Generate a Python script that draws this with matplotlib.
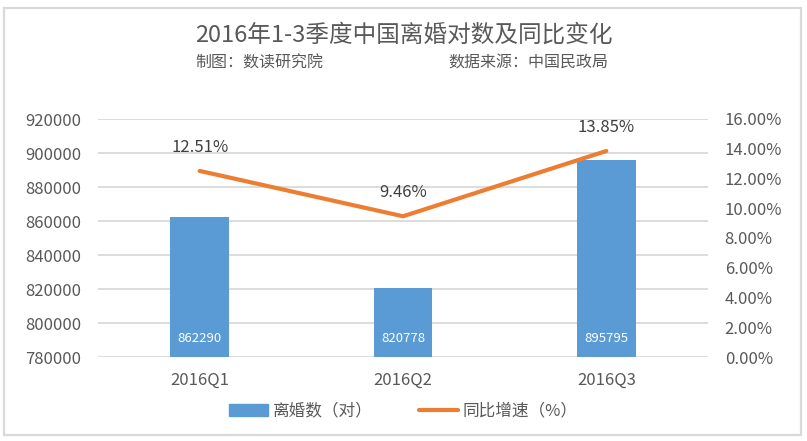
import matplotlib
matplotlib.use("Agg")
import matplotlib.pyplot as plt
from matplotlib.patches import Rectangle
from matplotlib.lines import Line2D
from matplotlib.ticker import FuncFormatter

plt.rcParams['font.family'] = ['Noto Sans CJK SC', 'DejaVu Sans']

categories = ["2016Q1", "2016Q2", "2016Q3"]
divorces = [862290, 820778, 895795]
growth = [0.1251, 0.0946, 0.1385]
left_ticks = [780000, 800000, 820000, 840000, 860000, 880000, 900000, 920000]
right_ticks = [0.0, 0.02, 0.04, 0.06, 0.08, 0.10, 0.12, 0.14, 0.16]

title = "2016年1-3季度中国离婚对数及同比变化"
sub_left = "制图：数读研究院"
sub_right = "数据来源：中国民政局"
legend_labels = ["离婚数（对）", "同比增速（%）"]

BLUE = "#5B9BD5"
ORANGE = "#ED7D31"
TEXT = "#595959"
GRID = "#D9D9D9"

W, H = 807, 441
fig = plt.figure(figsize=(W / 100, H / 100), dpi=100)
fig.patch.set_facecolor("white")

ax = fig.add_axes([98 / W, 1 - 357 / H, (708 - 98) / W, (357 - 119) / H])
x = list(range(len(categories)))
ax.bar(x, divorces, width=0.29, color=BLUE, zorder=2)
ax.set_xlim(-0.5, len(categories) - 0.5)
ax.set_ylim(left_ticks[0], left_ticks[-1])
ax.set_yticks(left_ticks)
ax.set_yticklabels([str(t) for t in left_ticks])
ax.set_xticks(x)
ax.set_xticklabels(categories)
ax.grid(axis="y", color=GRID, linewidth=1.3)
ax.set_axisbelow(True)
for s in ax.spines.values():
    s.set_visible(False)
ax.tick_params(axis="y", length=0, pad=12, labelsize=12, labelcolor=TEXT)
ax.tick_params(axis="x", length=0, pad=11, labelsize=12, labelcolor=TEXT)

ybot = ax.get_ylim()[0]
for xi, v in zip(x, divorces):
    ax.annotate(str(v), xy=(xi, ybot), xytext=(0, 13), textcoords="offset points",
                ha="center", va="center", color="white", fontsize=9.5, zorder=3)

ax2 = ax.twinx()
ax2.plot(x, growth, color=ORANGE, linewidth=3, solid_capstyle="round")
ax2.set_ylim(right_ticks[0], right_ticks[-1])
ax2.set_yticks(right_ticks)
ax2.yaxis.set_major_formatter(FuncFormatter(lambda v, p: f"{v * 100:.2f}%"))
for s in ax2.spines.values():
    s.set_visible(False)
ax2.tick_params(axis="y", length=0, pad=12, labelsize=12, labelcolor=TEXT)
for xi, g in zip(x, growth):
    ax2.annotate(f"{g * 100:.2f}%", xy=(xi, g), xytext=(0, 17), textcoords="offset points",
                 ha="center", va="center", color="#404040", fontsize=12)

fig.text(0.5, 1 - 35 / H, title, ha="center", va="center", fontsize=17, color=TEXT)
fig.text(195 / W, 1 - 63 / H, sub_left, ha="left", va="center", fontsize=11.5, color=TEXT)
fig.text(608 / W, 1 - 63 / H, sub_right, ha="right", va="center", fontsize=11.5, color=TEXT)

handles = [Rectangle((0, 0), 1, 1, color=BLUE),
           Line2D([0], [0], color=ORANGE, linewidth=3, solid_capstyle="round")]
fig.legend(handles, legend_labels, loc="center", bbox_to_anchor=(0.5, 1 - 411 / H),
           ncol=2, frameon=False, fontsize=12, labelcolor=TEXT,
           handlelength=2.3, handletextpad=0.3, columnspacing=2.8)

fig.patches.append(Rectangle((3.5 / W, 6 / H), (801 - 3.5) / W, (437 - 10) / H,
                             transform=fig.transFigure, fill=False,
                             edgecolor=GRID, linewidth=1.6))

fig.savefig("out.png", dpi=100)
